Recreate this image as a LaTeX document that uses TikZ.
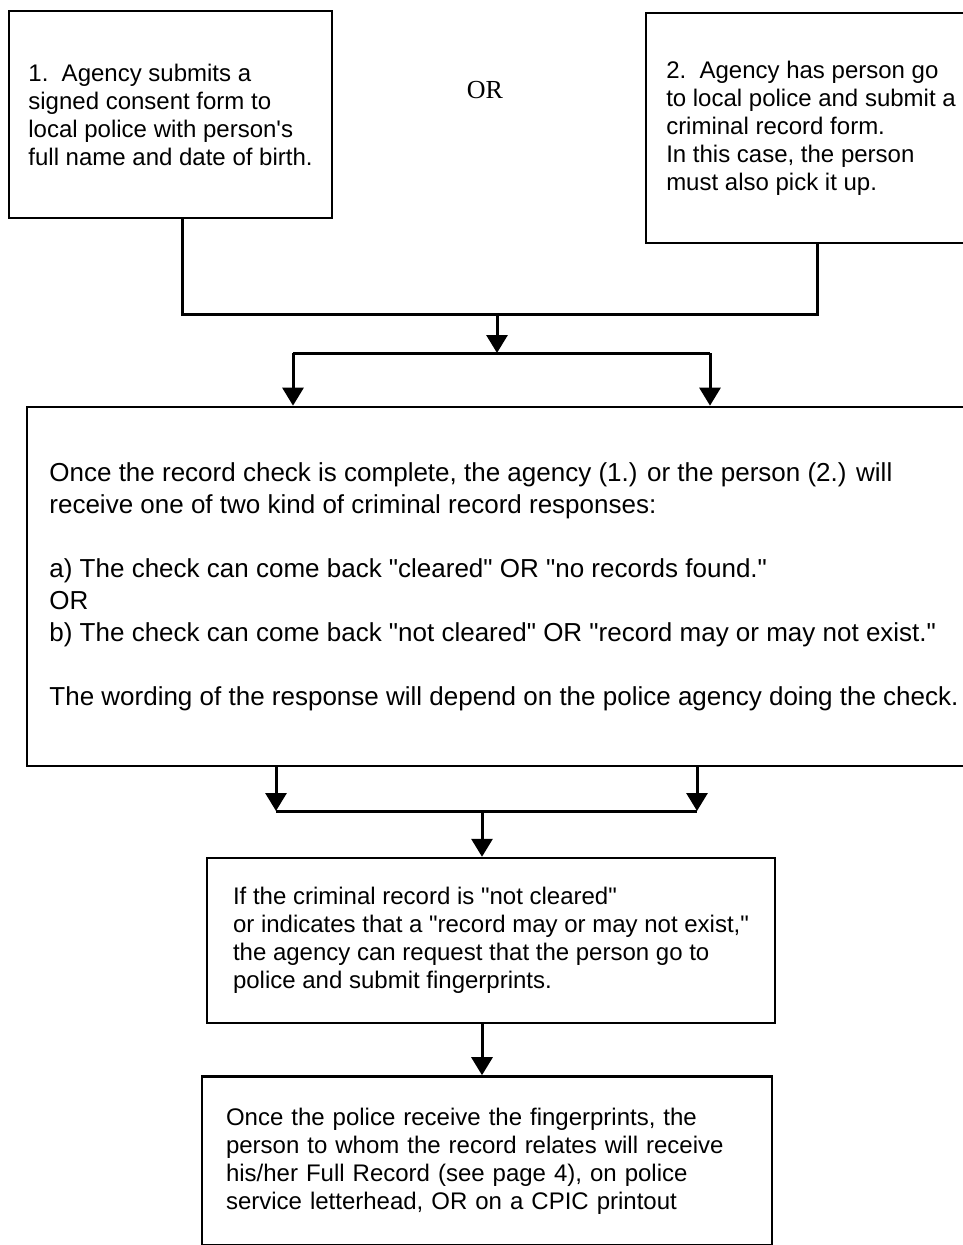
\documentclass[tikz,border=0pt]{standalone}
\usepackage{fontspec}
\setmainfont{Liberation Sans}[Ligatures=TeXOff]
\newfontfamily\orfont{Liberation Serif}
\usetikzlibrary{arrows.meta,positioning}

\tikzset{box/.style={draw,rectangle,line width=2.4pt,align=left,inner sep=0pt,
                     font=\fontsize{24}{28}\selectfont},
         bigbox/.style={box,line width=2.7pt,font=\fontsize{26}{32}\selectfont}}

\begin{document}
\begin{tikzpicture}[->,>={Triangle[width=21pt,length=18pt]},line width=3pt,
                    x=1pt,y=-1pt]
  \useasboundingbox (0,0) rectangle (962,1245);

  \node[box,minimum width=323pt,minimum height=207pt] (C1) at (170.5,114.5)
       {1.\ \ Agency submits a\\signed consent form to\\local police with person's\\full name and date of birth.};
  \node[font=\orfont\fontsize{26}{30}\selectfont] (Or) at (485,90) {OR};
  \node[box,minimum width=330pt,minimum height=230pt] (C2) at (811,128)
       {2.\ \ Agency has person go\\to local police and submit a\\criminal record form.\\In this case, the person\\must also pick it up.};
  \node[bigbox,minimum width=954pt,minimum height=359pt] (Resp) at (504,586.5)
       {Once the record check is complete, the agency (1.) or the person (2.) will\\
        receive one of two kind of criminal record responses:\\[32pt]
        a) The check can come back "cleared" OR "no records found."\\
        OR\\
        b) The check can come back "not cleared" OR "record may or may not exist."\\[32pt]
        The wording of the response will depend on the police agency doing the check.};
  \node[box,minimum width=568pt,minimum height=165pt] (Fing) at (491,940.5)
       {If the criminal record is "not cleared"\\or indicates that a "record may or may not exist,"\\the agency can request that the person go to\\police and submit fingerprints.};
  \node[box,minimum width=570pt,minimum height=169pt,text width=522pt] (Full) [below=51pt of Fing,xshift=-4pt]
       {Once the police receive the fingerprints, the\\person to whom the record relates will receive\\his/her Full Record (see page 4), on police\\service letterhead, OR on a CPIC printout};

  \coordinate (j1) at (182,314);
  \coordinate (j2) at (817,314);
  \coordinate (jm) at (497,314);
  \coordinate (s1) at (293,353);
  \coordinate (s2) at (710,353);
  \coordinate (sm) at (497,353);
  \coordinate (m1) at (276,811);
  \coordinate (m2) at (697,811);
  \coordinate (mm) at (482,811);

  \draw[-] (C1.south -| j1) -- (j1) -- (j2) -- (C2.south -| j2);
  \draw (jm) -- (sm);
  \draw[-] (s1) -- (s2);
  \draw (s1) -- (Resp.north -| s1);
  \draw (s2) -- (Resp.north -| s2);
  \draw (Resp.south -| m1) -- (m1);
  \draw (Resp.south -| m2) -- (m2);
  \draw[-] (m1) -- (m2);
  \draw (mm) -- (Fing.north -| mm);
  \draw (Fing.south -| mm) -- (Full.north -| mm);
\end{tikzpicture}
\end{document}
